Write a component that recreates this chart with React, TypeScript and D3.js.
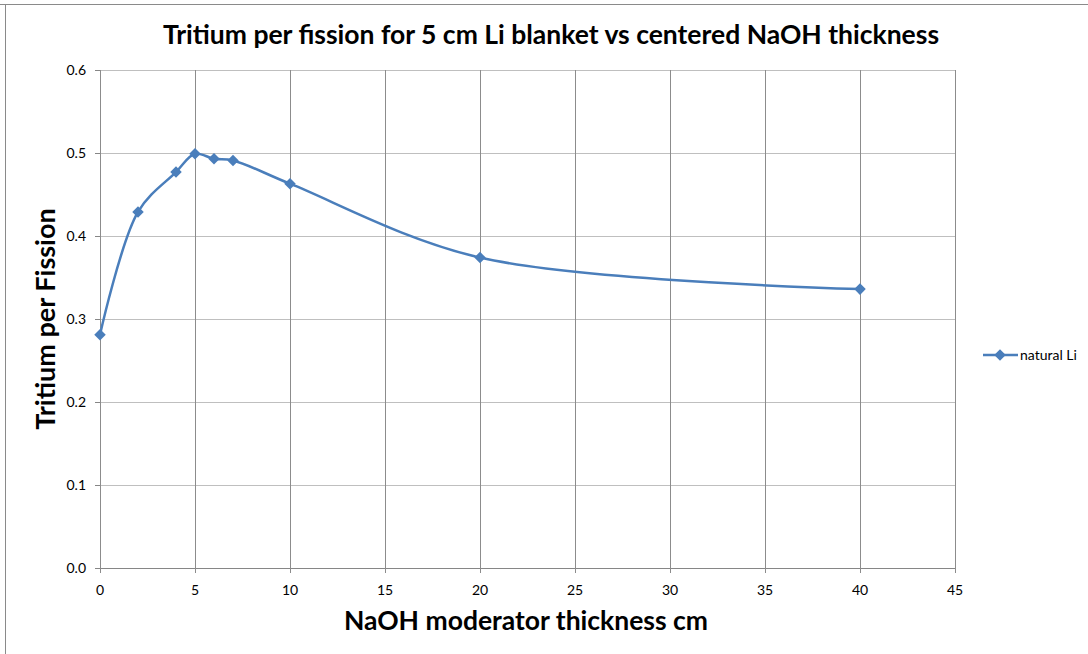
import React from "react";
import * as d3 from "d3";

// NaOH moderator thickness (cm) and tritium produced per fission
const thickness = [0, 2, 4, 5, 6, 7, 10, 20, 40];
const tritiumPerFission = [0.281, 0.429, 0.477, 0.499, 0.493, 0.491, 0.463, 0.374, 0.336];
const xTicks = [0, 5, 10, 15, 20, 25, 30, 35, 40, 45];
const yTicks = [0, 0.1, 0.2, 0.3, 0.4, 0.5, 0.6];
const seriesName = "natural Li";

const W = 1088;
const H = 654;
const FONT = "Lato, 'Open Sans', sans-serif";
const LINE = "#4a7ebb";

export default function App() {
  const x = d3.scaleLinear().domain([0, 45]).range([100, 955]);
  const y = d3.scaleLinear().domain([0, 0.6]).range([568, 70]);
  const pts: [number, number][] = thickness.map((t, i) => [t, tritiumPerFission[i]]);
  const line = d3
    .line<[number, number]>()
    .x((d) => x(d[0]))
    .y((d) => y(d[1]))
    .curve(d3.curveCatmullRom.alpha(0.5));
  const diamond = d3.symbol().type(d3.symbolDiamond2).size(85)()!;

  return (
    <svg
      width={W}
      height={H}
      style={{ position: "absolute", left: 0, top: 0, background: "#fff" }}
      fontFamily={FONT}
    >
      <rect x={0} y={0} width={W} height={H} fill="#fff" />
      {/* outer chart frame */}
      <line x1={0} x2={W} y1={4.5} y2={4.5} stroke="#8a8a8a" strokeWidth={1} />
      <line x1={5.5} x2={5.5} y1={4.5} y2={H} stroke="#8a8a8a" strokeWidth={1} />

      <text x={551} y={44} textAnchor="middle" fontSize={26.5} fontWeight="bold" fill="#000">
        Tritium per fission for 5 cm Li blanket vs centered NaOH thickness
      </text>

      {/* horizontal gridlines */}
      {yTicks.map((t) => (
        <line
          key={"hg" + t}
          x1={x(0)}
          x2={x(45)}
          y1={Math.round(y(t)) + 0.5}
          y2={Math.round(y(t)) + 0.5}
          stroke={t === 0 ? "#868686" : "#bfbfbf"}
          strokeWidth={1}
        />
      ))}
      {/* vertical gridlines */}
      {xTicks.map((t) => (
        <line
          key={"vg" + t}
          x1={Math.round(x(t)) + 0.5}
          x2={Math.round(x(t)) + 0.5}
          y1={y(0.6)}
          y2={y(0) + 5}
          stroke="#8c8c8c"
          strokeWidth={1}
        />
      ))}
      {/* y tick marks */}
      {yTicks.map((t) => (
        <line
          key={"yt" + t}
          x1={x(0) - 5}
          x2={x(0)}
          y1={Math.round(y(t)) + 0.5}
          y2={Math.round(y(t)) + 0.5}
          stroke="#868686"
        />
      ))}
      {yTicks.map((t) => (
        <text key={"yl" + t} x={86} y={y(t) + 5} textAnchor="end" fontSize={14} fill="#000">
          {t.toFixed(1)}
        </text>
      ))}
      {xTicks.map((t) => (
        <text key={"xl" + t} x={x(t)} y={595} textAnchor="middle" fontSize={14} fill="#000">
          {t}
        </text>
      ))}

      <path d={line(pts)!} fill="none" stroke={LINE} strokeWidth={2.5} />
      {pts.map((p, i) => (
        <path key={"m" + i} d={diamond} transform={`translate(${x(p[0])},${y(p[1])})`} fill={LINE} />
      ))}

      <text x={526} y={630} textAnchor="middle" fontSize={26.5} fontWeight="bold" fill="#000">
        NaOH moderator thickness cm
      </text>
      <text
        transform={`translate(55,319) rotate(-90)`}
        textAnchor="middle"
        fontSize={27}
        fontWeight="bold"
        fill="#000"
      >
        Tritium per Fission
      </text>

      {/* legend */}
      <line x1={983} x2={1018} y1={355} y2={355} stroke={LINE} strokeWidth={2.5} />
      <path d={diamond} transform="translate(1000,355)" fill={LINE} />
      <text x={1020} y={360} fontSize={14} fill="#000">
        {seriesName}
      </text>
    </svg>
  );
}
